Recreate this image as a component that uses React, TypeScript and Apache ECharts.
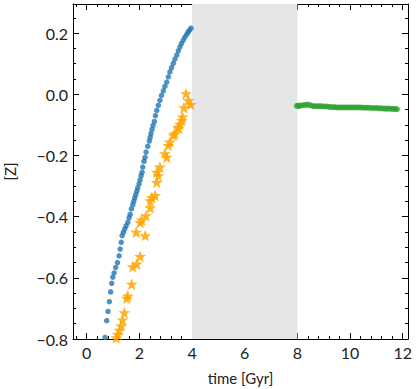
import React, { useEffect, useRef } from "react";
import * as echarts from "echarts";

// Blue dots: [time Gyr, [Z]]
const blueX = [0.70,0.76,0.81,0.86,0.91,0.95,0.99,1.04,1.10,1.17,1.23,1.27,1.31,1.345,1.394,1.447,1.496,1.561,1.61,1.648,1.697,1.75,1.788,1.826,1.864,1.902,1.939,1.989,2.027,2.064,2.102,2.129,2.178,2.216,2.254,2.318,2.379,2.41,2.44,2.48,2.52,2.57,2.61,2.66,2.72,2.78,2.84,2.91,2.97,3.04,3.10,3.16,3.22,3.29,3.35,3.42,3.48,3.54,3.60,3.67,3.73,3.80,3.85,3.90,3.96];
const blueY = [-0.795,-0.74,-0.71,-0.678,-0.646,-0.618,-0.598,-0.584,-0.566,-0.55,-0.528,-0.506,-0.484,-0.462,-0.451,-0.44,-0.43,-0.419,-0.404,-0.393,-0.375,-0.361,-0.35,-0.339,-0.328,-0.317,-0.306,-0.293,-0.28,-0.266,-0.255,-0.238,-0.219,-0.206,-0.189,-0.17,-0.153,-0.141,-0.129,-0.115,-0.102,-0.089,-0.07,-0.053,-0.036,-0.02,-0.004,0.011,0.026,0.04,0.057,0.073,0.087,0.101,0.115,0.128,0.142,0.155,0.166,0.177,0.187,0.196,0.203,0.209,0.216];

// Orange stars
const starX = [1.12,1.18,1.24,1.31,1.36,1.43,1.52,1.56,1.71,1.75,1.90,2.03,1.88,2.22,2.03,2.09,2.25,2.41,2.41,2.47,2.60,2.66,2.72,2.66,2.78,3.04,2.97,3.10,3.16,3.29,3.35,3.48,3.61,3.48,3.54,3.64,3.69,3.95,3.86,3.77];
const starY = [-0.796,-0.785,-0.771,-0.757,-0.738,-0.714,-0.667,-0.659,-0.621,-0.564,-0.555,-0.530,-0.451,-0.462,-0.419,-0.411,-0.397,-0.371,-0.348,-0.337,-0.331,-0.288,-0.266,-0.255,-0.238,-0.206,-0.194,-0.167,-0.156,-0.134,-0.129,-0.107,-0.085,-0.112,-0.098,-0.074,-0.044,-0.033,-0.020,0.002];

// Green track
const greenX = [7.98,8.05,8.1,8.2,8.3,8.4,8.5,8.6,8.7,8.8,8.9,9.0,9.1,9.2,9.3,9.4,9.5,9.6,9.7,9.8,9.9,10.0,10.1,10.2,10.3,10.4,10.5,10.6,10.7,10.8,10.9,11.0,11.1,11.2,11.3,11.4,11.5,11.6,11.7,11.78];
const greenY = [-0.038,-0.038,-0.037,-0.036,-0.035,-0.034,-0.036,-0.039,-0.039,-0.039,-0.039,-0.040,-0.040,-0.041,-0.042,-0.042,-0.043,-0.043,-0.043,-0.043,-0.043,-0.043,-0.043,-0.043,-0.043,-0.043,-0.044,-0.044,-0.044,-0.045,-0.045,-0.045,-0.046,-0.046,-0.047,-0.047,-0.047,-0.048,-0.048,-0.049];

// Shaded interval
const bandStart = 4;
const bandEnd = 8;

// Axis ticks
const xMajor = [0, 2, 4, 6, 8, 10, 12];
const xMinor = [-0.4,0.4,0.8,1.2,1.6,2.4,2.8,3.2,3.6,4.4,4.8,5.2,5.6,6.4,6.8,7.2,7.6,8.4,8.8,9.2,9.6,10.4,10.8,11.2,11.6];
const yMajor = [-0.8, -0.6, -0.4, -0.2, 0.0, 0.2];
const yMinor = [-0.75,-0.7,-0.65,-0.55,-0.5,-0.45,-0.35,-0.3,-0.25,-0.15,-0.1,-0.05,0.05,0.1,0.15,0.25];

const X_MIN = -0.52, X_MAX = 12.2, Y_MIN = -0.8, Y_MAX = 0.295;
const FONT = "Lato";

const zip = (a: number[], b: number[]) => a.map((v, i) => [v, b[i]]);

const fmtY = (v: number) => {
  const s = Math.abs(v).toFixed(1);
  return v < -1e-9 ? "\u2212" + s : s;
};

export default function App() {
  const ref = useRef<HTMLDivElement>(null);
  useEffect(() => {
    const chart = echarts.init(ref.current!, null, { renderer: "svg" });
    const line = { lineStyle: { color: "#000", width: 1 } };
    const mkX = (pos: "bottom" | "top", ticks: number[], len: number, labels: boolean, showLine: boolean, name?: string) => ({
      type: "value",
      position: pos,
      min: X_MIN,
      max: X_MAX,
      name,
      nameLocation: "middle",
      nameGap: 31,
      nameTextStyle: { fontFamily: FONT, fontSize: 15, color: "#222" },
      axisLine: { show: showLine, onZero: false, ...line },
      axisTick: { show: true, inside: true, length: len, customValues: ticks, lineStyle: { color: "#000", width: 1 } },
      axisLabel: labels
        ? { show: true, customValues: ticks, margin: 5, fontFamily: FONT, fontSize: 16, color: "#222", formatter: (v: number) => String(v) }
        : { show: false },
      splitLine: { show: false },
    });
    const mkY = (pos: "left" | "right", ticks: number[], len: number, labels: boolean, showLine: boolean, name?: string) => ({
      type: "value",
      position: pos,
      min: Y_MIN,
      max: Y_MAX,
      name,
      nameLocation: "middle",
      nameGap: 56,
      nameRotate: 90,
      nameTextStyle: { fontFamily: FONT, fontSize: 15, color: "#222" },
      axisLine: { show: showLine, onZero: false, ...line },
      axisTick: { show: true, inside: true, length: len, customValues: ticks, lineStyle: { color: "#000", width: 1 } },
      axisLabel: labels
        ? { show: true, customValues: ticks, margin: 5, fontFamily: FONT, fontSize: 16, color: "#222", formatter: fmtY }
        : { show: false },
      splitLine: { show: false },
    });
    chart.setOption({
      animation: false,
      backgroundColor: "#fff",
      grid: { left: 73, right: 8, top: 4, bottom: 50, containLabel: false, outerBoundsMode: "none" },
      xAxis: [
        mkX("bottom", xMajor, 6, true, true, "time [Gyr]"),
        mkX("bottom", xMinor, 3, false, false),
        mkX("top", xMajor, 6, false, true),
        mkX("top", xMinor, 3, false, false),
      ],
      yAxis: [
        mkY("left", yMajor, 6, true, true, "[Z]"),
        mkY("left", yMinor, 3, false, false),
        mkY("right", yMajor, 6, false, true),
        mkY("right", yMinor, 3, false, false),
      ],
      series: [
        {
          type: "scatter",
          xAxisIndex: 0,
          yAxisIndex: 0,
          data: [],
          silent: true,
          markArea: {
            silent: true,
            itemStyle: { color: "#e6e6e6" },
            data: [[{ xAxis: bandStart }, { xAxis: bandEnd }]],
          },
        },
        {
          type: "scatter",
          data: zip(starX, starY),
          symbol: "path://M50,0 L63,36 L100,36 L70,58 L81,95 L50,73 L19,95 L30,58 L0,36 L37,36 Z",
          symbolSize: 12,
          itemStyle: { color: "#ffa500", opacity: 0.85 },
          clip: true,
        },
        {
          type: "scatter",
          data: zip(blueX, blueY),
          symbol: "circle",
          symbolSize: 5.5,
          itemStyle: { color: "#1f77b4" },
          clip: true,
        },
        {
          type: "scatter",
          data: zip(greenX, greenY),
          symbol: "circle",
          symbolSize: 6,
          itemStyle: { color: "#2ca02c" },
          clip: true,
        },
      ],
    });
    return () => chart.dispose();
  }, []);
  return (
    <div
      ref={ref}
      style={{ position: "fixed", left: 0, top: 0, width: 416, height: 389, background: "#fff" }}
    />
  );
}
